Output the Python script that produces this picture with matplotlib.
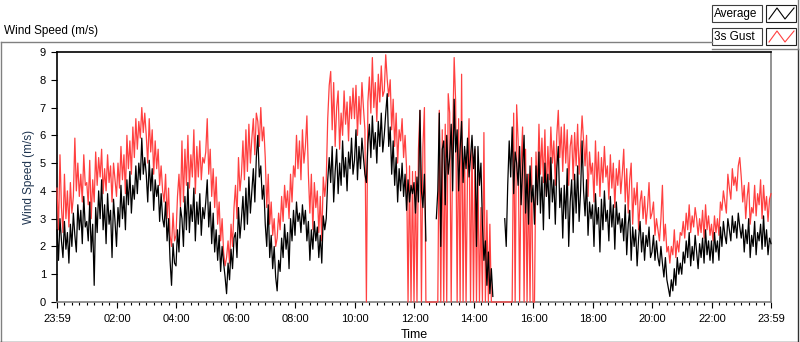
import numpy as np
import matplotlib
matplotlib.use("Agg")
import matplotlib.pyplot as plt
from matplotlib.lines import Line2D
from matplotlib.patches import Rectangle

plt.rcParams['font.family'] = ['Liberation Sans', 'DejaVu Sans']

# sample step in minutes, counted from 23:59 (20 samples per hour)
step_min = 3
nan = np.nan

# average wind speed (m/s)
avg = [
    2.6, 1.5, 3.0, 2.2, 1.6, 2.9, 1.9, 2.5, 1.4, 2.8, 2.0, 3.2, 2.4, 1.8, 3.5, 2.6, 3.3, 2.1, 3.8, 2.7,
    2.9, 2.2, 3.6, 1.8, 2.8, 0.6, 3.4, 2.5, 4.0, 3.0, 4.4, 2.6, 3.5, 2.1, 3.9, 2.8, 3.3, 1.6, 3.7, 2.9,
    2.0, 3.4, 2.7, 4.2, 3.0, 3.8, 2.6, 4.4, 3.5, 4.7, 3.2, 4.2, 3.7, 4.9, 3.9, 5.0, 4.4, 5.9, 4.6, 5.2,
    4.6, 3.6, 5.1, 4.0, 4.8, 3.3, 4.4, 3.8, 4.2, 2.9, 3.9, 3.0, 2.7, 3.6, 2.2, 3.0, 1.5, 0.6, 2.1, 1.4,
    1.3, 2.6, 1.8, 3.4, 3.0, 2.0, 3.8, 2.6, 4.3, 2.5, 3.5, 2.9, 4.1, 2.2, 3.6, 2.8, 3.9, 2.4, 3.4, 3.0,
    3.6, 4.4, 2.7, 3.6, 2.1, 3.2, 1.8, 2.6, 1.5, 2.4, 1.1, 2.0, 1.4, 0.9, 0.3, 1.4, 0.8, 1.9, 1.2, 2.3,
    2.5, 1.6, 3.4, 2.3, 3.0, 3.8, 2.6, 4.1, 2.8, 4.5, 3.2, 4.0, 4.8, 3.6, 5.2, 6.0, 4.5, 4.9, 3.7, 4.2,
    2.8, 2.0, 3.5, 1.6, 2.4, 1.2, 2.0, 0.9, 0.4, 1.5, 1.1, 2.3, 1.6, 2.8, 1.9, 2.5, 1.2, 3.0, 2.2, 3.3,
    2.4, 3.6, 2.9, 3.2, 2.5, 3.5, 2.8, 3.3, 2.2, 2.9, 1.5, 2.6, 1.9, 2.9, 2.2, 2.7, 1.6, 2.4, 1.4, 3.1,
    2.6, 3.0, 4.4, 5.2, 4.3, 5.6, 3.6, 4.7, 5.5, 3.9, 5.0, 4.2, 5.8, 4.5, 5.2, 4.0, 5.4, 4.8, 5.9, 4.6,
    5.1, 6.2, 4.4, 5.6, 4.8, 5.9, 5.2, 4.6, 4.3, 5.7, 6.4, 5.2, 6.7, 5.5, 6.1, 5.0, 6.5, 5.6, 6.8, 5.4,
    6.0, 6.8, 7.5, 5.6, 6.3, 4.6, 5.8, 4.2, 5.2, 3.6, 4.8, 4.0, 5.0, 3.8, 4.6, 3.3, 4.4, 3.6, 4.2, 3.9,
    4.3, 3.2, 4.5, 3.6, 6.9, 4.0, 3.4, 4.6, 2.2, nan, nan, nan, nan, nan, nan, 3.0, 4.0, 6.8, 2.0, 5.5,
    5.8, 3.5, 6.0, 4.6, 5.2, 6.4, 4.0, 7.3, 5.4, 6.2, 4.0, 5.5, 6.5, 4.3, 5.6, 4.8, 5.9, 4.5, 5.2, 6.0,
    4.8, 5.6, 2.0, 5.6, 4.2, 5.0, 2.8, 1.5, 2.2, 0.6, 1.8, 0.3, 1.2, 0.2, nan, nan, nan, nan, nan, nan,
    nan, 3.0, 2.0, 4.2, 5.8, 4.5, 6.3, 3.9, 5.4, 5.0, 4.2, 5.6, 3.5, 4.8, 6.0, 3.2, 4.6, 2.8, 4.9, 3.6,
    4.2, 2.8, 4.9, 3.5, 5.4, 3.2, 4.5, 2.6, 5.0, 3.8, 4.6, 3.0, 5.2, 3.6, 4.4, 2.8, 4.8, 5.6, 3.4, 4.1,
    2.3, 4.2, 3.0, 4.8, 2.0, 3.6, 4.4, 2.5, 4.6, 3.2, 4.9, 2.9, 4.0, 5.8, 4.0, 3.1, 4.4, 2.4, 3.6, 3.0,
    3.5, 2.0, 3.9, 2.8, 3.4, 1.8, 3.7, 2.6, 4.0, 2.9, 3.3, 2.2, 3.8, 2.7, 3.5, 1.9, 3.6, 2.8, 3.2, 2.5,
    3.0, 2.2, 3.5, 1.7, 2.8, 3.3, 1.5, 2.7, 2.0, 2.6, 1.3, 2.3, 2.9, 1.8, 2.5, 1.5, 2.4, 2.0, 2.7, 1.6,
    1.8, 2.4, 1.5, 2.2, 1.6, 1.3, 2.0, 1.4, 0.9, 1.6, 0.8, 0.5, 0.2, 0.8, 0.4, 1.2, 0.6, 1.6, 1.0, 1.4,
    1.0, 1.8, 1.4, 2.2, 1.6, 2.5, 1.3, 2.0, 1.5, 2.4, 1.8, 1.2, 2.1, 1.6, 2.3, 1.4, 2.6, 1.7, 2.2, 1.5,
    2.2, 1.4, 2.5, 1.8, 2.2, 1.5, 2.7, 2.0, 2.9, 2.4, 2.1, 3.0, 2.6, 2.2, 3.1, 2.5, 2.9, 2.3, 3.2, 2.7,
    2.3, 2.8, 1.8, 2.6, 2.1, 3.0, 1.6, 2.4, 2.0, 2.9, 1.7, 2.5, 2.2, 2.8, 1.9, 3.1, 2.0, 2.6, 1.7, 2.3,
    2.1,
]

# 3 s gust (m/s)
gust = [
    4.1, 2.6, 5.3, 3.4, 2.5, 4.6, 3.0, 4.0, 2.7, 4.3, 3.2, 3.8, 5.9, 4.0, 5.0, 3.8, 4.6, 3.6, 5.3, 4.2,
    4.3, 3.5, 5.1, 3.0, 4.4, 3.6, 5.4, 4.2, 5.2, 4.5, 5.5, 3.9, 4.8, 4.0, 5.3, 4.3, 4.9, 3.6, 5.0, 4.4,
    3.8, 5.0, 4.1, 5.6, 4.4, 5.3, 3.9, 6.0, 4.8, 5.8, 4.6, 6.3, 5.2, 6.6, 5.5, 6.5, 5.9, 7.0, 6.1, 6.8,
    6.0, 5.0, 6.6, 5.4, 6.2, 4.6, 5.8, 4.8, 5.5, 4.2, 4.9, 4.0, 3.6, 4.6, 3.0, 4.1, 2.4, 2.0, 3.2, 2.2,
    2.4, 3.8, 4.6, 3.4, 5.8, 3.6, 5.5, 4.2, 6.0, 4.1, 5.3, 4.5, 6.2, 3.9, 5.6, 4.5, 5.8, 4.4, 5.2, 5.0,
    5.4, 6.6, 4.6, 5.5, 3.8, 4.8, 3.4, 4.5, 2.8, 3.6, 2.2, 3.0, 1.8, 1.3, 1.6, 2.2, 1.4, 2.8, 2.0, 3.4,
    4.2, 3.0, 5.2, 4.0, 4.6, 5.8, 4.4, 6.2, 4.7, 6.4, 5.0, 5.9, 6.6, 5.3, 6.8, 6.5, 5.6, 7.0, 5.8, 6.3,
    5.2, 3.4, 4.6, 2.8, 3.6, 2.4, 3.0, 2.0, 2.3, 3.2, 2.6, 3.8, 2.9, 4.2, 3.4, 4.0, 3.0, 4.6, 3.6, 4.9,
    4.5, 6.0, 4.8, 5.8, 4.4, 6.2, 5.0, 5.6, 6.7, 4.6, 3.2, 4.6, 2.6, 4.3, 3.4, 4.0, 2.5, 3.8, 2.2, 4.5,
    3.8, 4.4, 6.6, 7.8, 8.3, 6.2, 7.9, 5.6, 7.0, 7.6, 5.5, 6.8, 6.0, 7.6, 6.4, 7.2, 5.8, 7.4, 6.6, 7.7,
    6.6, 7.8, 6.0, 7.4, 6.4, 7.9, 7.0, 6.2, 0.0, 7.2, 8.1, 6.8, 8.8, 7.0, 7.9, 6.5, 8.2, 7.2, 8.5, 7.4,
    7.6, 8.9, 8.0, 7.4, 8.0, 6.2, 7.3, 5.6, 6.8, 5.0, 6.2, 5.8, 6.6, 5.2, 6.0, 4.8, 0.0, 4.9, 0.0, 4.7,
    0.0, 4.7, 0.0, 5.5, 6.9, 0.0, 5.6, 7.0, 0.0, 0.0, 0.0, 0.0, 0.0, 0.0, 0.0, 0.0, 0.0, 6.9, 0.0, 6.2,
    0.0, 6.4, 0.0, 7.5, 6.8, 0.0, 5.9, 8.8, 7.2, 0.0, 6.6, 0.0, 8.2, 0.0, 5.5, 0.0, 4.8, 6.6, 0.0, 5.8,
    0.0, 5.5, 0.0, 4.6, 0.0, 3.4, 0.0, 6.1, 0.0, 3.3, 0.0, 2.8, 0.0, 0.0, 0.0, 0.0, 0.0, 0.0, 0.0, 0.0,
    0.0, 0.0, 0.0, 0.0, 0.0, 0.0, 0.0, 6.8, 0.0, 7.1, 5.8, 0.0, 4.9, 6.3, 0.0, 5.5, 0.0, 4.6, 0.0, 5.2,
    0.0, 0.0, 5.4, 4.0, 6.4, 4.6, 5.9, 4.3, 6.2, 3.8, 5.6, 4.4, 6.3, 5.0, 5.8, 4.2, 6.0, 6.9, 5.2, 6.3,
    4.7, 6.4, 5.0, 6.2, 4.2, 5.6, 6.0, 4.4, 6.1, 4.9, 6.4, 4.6, 5.6, 6.7, 5.8, 4.9, 6.0, 3.8, 5.4, 4.6,
    5.0, 3.6, 5.8, 4.2, 5.4, 3.8, 5.2, 4.3, 5.6, 4.5, 4.9, 3.7, 5.3, 4.1, 5.0, 3.4, 4.8, 4.2, 5.1, 3.9,
    4.6, 5.5, 3.6, 4.8, 3.2, 4.4, 5.0, 2.8, 4.1, 3.5, 4.3, 2.6, 3.6, 4.0, 3.0, 3.8, 2.8, 3.4, 4.3, 3.0,
    3.2, 3.6, 2.4, 3.0, 2.6, 2.2, 3.0, 4.2, 2.2, 2.8, 1.8, 2.0, 1.4, 2.0, 1.7, 2.6, 1.6, 2.2, 1.8, 2.5,
    2.4, 2.9, 2.3, 3.2, 2.6, 3.5, 2.5, 3.1, 2.7, 3.4, 3.0, 2.4, 3.0, 2.5, 3.3, 2.3, 3.5, 2.6, 3.1, 2.4,
    2.8, 2.2, 3.1, 2.5, 3.0, 2.4, 3.6, 3.3, 4.0, 3.6, 3.2, 4.6, 4.1, 3.7, 4.8, 4.2, 4.5, 4.0, 4.9, 5.2,
    4.5, 3.6, 4.2, 3.0, 3.8, 4.3, 2.8, 3.4, 3.2, 4.2, 3.1, 3.9, 3.5, 4.4, 3.0, 4.2, 3.3, 3.8, 2.9, 3.7,
    3.9,
]

tick_labels = ["23:59", "02:00", "04:00", "06:00", "08:00", "10:00", "12:00",
               "14:00", "16:00", "18:00", "20:00", "22:00", "23:59"]
tick_pos = [0, 121, 241, 361, 481, 601, 721, 841, 961, 1081, 1201, 1321, 1440]

t = np.arange(len(avg)) * step_min

fig = plt.figure(figsize=(8, 3.42), dpi=100)
ax = fig.add_axes([57 / 800, 1 - 302 / 342, 714 / 800, 250 / 342])

ax.plot(t, gust, color='#ff4040', lw=0.9, zorder=3, clip_on=False)
ax.plot(t, avg, color='black', lw=0.9, zorder=4, clip_on=False)

ax.set_xlim(0, 1440)
ax.set_ylim(0, 9)
ax.set_yticks(range(10))
ax.set_xticks(tick_pos)
ax.set_xticklabels(tick_labels)
ax.set_xticks(np.arange(0, 1441, 15), minor=True)
ax.tick_params(axis='both', labelsize=8, color='black', length=4, width=0.8, pad=4)
ax.tick_params(axis='x', which='minor', length=2.5, width=0.8)
ax.tick_params(axis='x', pad=5)

for s in ['top', 'left']:
    ax.spines[s].set_color('black')
    ax.spines[s].set_linewidth(1.2)
for s in ['right', 'bottom']:
    ax.spines[s].set_color('#808080')
    ax.spines[s].set_linewidth(1.2)

ax.set_ylabel("Wind Speed (m/s)", fontsize=8.5, color='#1f3550', labelpad=3)
ax.set_xlabel("Time", fontsize=9, labelpad=3)

# outer panel border and title
def fig_line(x0, y0, x1, y1, color, lw=1.0):
    fig.add_artist(Line2D([x0 / 800, x1 / 800], [1 - y0 / 342, 1 - y1 / 342],
                          color=color, lw=lw, transform=fig.transFigure))

fig_line(0.5, 42, 712, 42, '#808080')
fig_line(0.5, 42, 0.5, 341.5, '#808080')
fig_line(0, 341.5, 798, 341.5, '#303030')
fig_line(797.5, 49, 797.5, 342, '#303030')
fig_line(712, 49, 798, 49, '#808080')
fig_line(797.5, 0, 797.5, 49, '#808080')

fig.text(4 / 800, 1 - 31 / 342, "Wind Speed (m/s)", fontsize=8.5, va='center', ha='left')

# plot legend
for row, (name, col) in enumerate([("Average", 'black'), ("3s Gust", '#ff4040')]):
    y_top = 5 + row * 23
    fig.add_artist(Rectangle((712 / 800, 1 - (y_top + 17) / 342), 50 / 800, 17 / 342,
                             transform=fig.transFigure, fill=False, ec='#404040', lw=0.8))
    fig.add_artist(Rectangle((766 / 800, 1 - (y_top + 17) / 342), 30 / 800, 17 / 342,
                             transform=fig.transFigure, fill=False, ec='#202020', lw=0.8))
    fig.text(714 / 800, 1 - (y_top + 8.5) / 342, name, fontsize=8.5, va='center', ha='left')
    zx = np.array([769, 777, 785, 794]) / 800
    zy = 1 - (y_top + np.array([14, 3, 14, 3])) / 342
    fig.add_artist(Line2D(zx, zy, color=col, lw=0.8, transform=fig.transFigure))

fig.savefig("out.png", dpi=100)
